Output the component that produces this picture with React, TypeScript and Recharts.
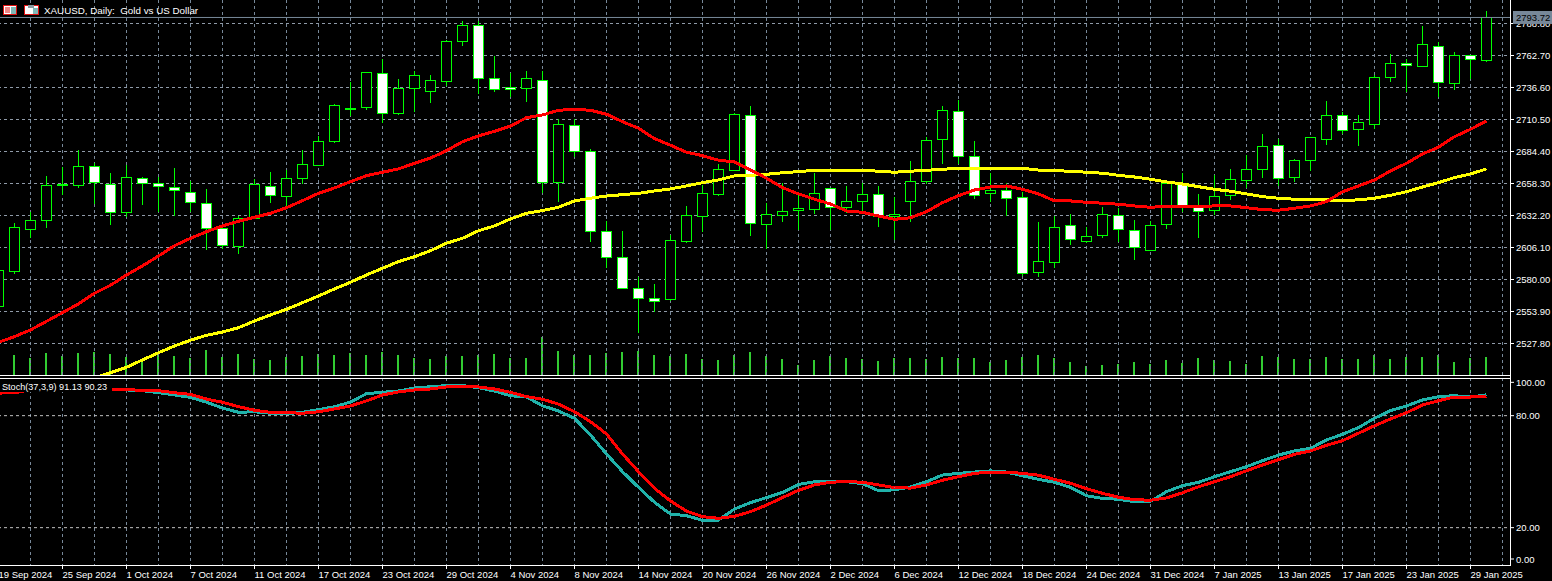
import {
  Bar,
  CartesianGrid,
  ComposedChart,
  Line,
  ReferenceLine,
  XAxis,
  YAxis,
} from "recharts"

const opens = [2557.6, 2586.4, 2620.7, 2628.0, 2656.7, 2656.5, 2672.4, 2657.7, 2634.5, 2662.6, 2658.5, 2655.2, 2651.2, 2642.2, 2621.8, 2606.8, 2629.4, 2656.1, 2647.6, 2662.3, 2672.9, 2692.4, 2718.7, 2720.2, 2748.2, 2715.3, 2736.0, 2733.2, 2741.4, 2774.3, 2787.4, 2743.8, 2736.5, 2735.7, 2742.5, 2659.0, 2705.8, 2684.6, 2619.4, 2598.1, 2572.9, 2564.7, 2563.6, 2610.9, 2631.3, 2649.2, 2668.8, 2714.0, 2624.7, 2632.1, 2636.2, 2637.0, 2654.4, 2638.6, 2643.5, 2649.5, 2631.3, 2643.5, 2659.8, 2694.4, 2717.2, 2680.5, 2650.3, 2652.8, 2647.1, 2585.6, 2593.7, 2624.2, 2610.9, 2615.8, 2632.4, 2620.2, 2603.5, 2624.7, 2657.9, 2640.6, 2636.2, 2648.4, 2660.6, 2669.9, 2689.5, 2663.4, 2677.3, 2694.4, 2714.0, 2702.5, 2706.6, 2745.0, 2756.4, 2753.6, 2770.2, 2740.1, 2762.6, 2758.5]
const highs = [2587.0, 2625.9, 2635.1, 2664.5, 2671.6, 2685.4, 2675.1, 2666.9, 2673.2, 2663.6, 2663.4, 2671.0, 2660.4, 2653.6, 2623.1, 2632.1, 2662.0, 2667.7, 2669.3, 2685.4, 2697.1, 2723.2, 2741.1, 2749.3, 2759.6, 2743.6, 2750.1, 2746.8, 2775.4, 2790.6, 2790.6, 2762.3, 2748.7, 2750.1, 2750.1, 2710.7, 2710.7, 2686.2, 2627.5, 2619.6, 2582.3, 2576.4, 2616.3, 2640.0, 2657.1, 2674.2, 2715.6, 2721.5, 2642.4, 2658.5, 2649.0, 2666.9, 2654.7, 2656.3, 2658.5, 2656.3, 2647.1, 2676.7, 2696.0, 2721.5, 2726.4, 2693.0, 2666.9, 2658.5, 2651.6, 2626.9, 2632.1, 2633.5, 2622.9, 2639.2, 2638.4, 2628.6, 2627.5, 2660.4, 2666.7, 2649.8, 2665.3, 2670.2, 2681.3, 2698.7, 2694.4, 2678.1, 2696.3, 2725.6, 2716.9, 2714.2, 2746.6, 2763.7, 2759.6, 2786.8, 2773.5, 2765.3, 2763.1, 2799.0]
const lows = [2557.6, 2584.8, 2614.1, 2622.3, 2649.0, 2654.9, 2641.6, 2624.7, 2631.3, 2640.8, 2635.3, 2632.1, 2635.3, 2604.3, 2605.2, 2601.1, 2629.0, 2642.7, 2639.4, 2657.9, 2672.6, 2691.4, 2713.6, 2718.5, 2707.9, 2714.2, 2716.9, 2724.2, 2738.1, 2770.7, 2731.1, 2733.2, 2729.1, 2725.1, 2650.8, 2643.5, 2679.7, 2610.9, 2589.7, 2572.3, 2536.7, 2553.8, 2562.5, 2609.8, 2618.8, 2648.4, 2668.1, 2615.5, 2604.9, 2626.9, 2620.4, 2633.5, 2620.4, 2634.3, 2633.5, 2622.9, 2612.3, 2626.9, 2658.2, 2674.5, 2674.5, 2645.9, 2643.2, 2632.1, 2582.9, 2582.1, 2589.4, 2608.2, 2609.8, 2614.1, 2610.6, 2596.0, 2603.3, 2621.2, 2635.3, 2613.9, 2632.6, 2644.9, 2654.9, 2663.1, 2656.3, 2659.6, 2668.5, 2689.7, 2699.0, 2688.9, 2703.0, 2741.4, 2733.2, 2753.6, 2728.6, 2734.8, 2743.3, 2757.7]
const closes = [2587.0, 2622.6, 2628.3, 2656.9, 2657.4, 2672.4, 2659.0, 2634.5, 2663.4, 2658.5, 2656.1, 2652.5, 2642.7, 2621.5, 2607.6, 2630.0, 2657.7, 2648.4, 2662.6, 2674.0, 2692.8, 2722.1, 2719.8, 2749.0, 2715.3, 2736.0, 2746.6, 2742.5, 2774.3, 2787.4, 2744.1, 2735.2, 2734.8, 2744.1, 2659.0, 2706.6, 2684.6, 2619.0, 2597.8, 2572.5, 2564.7, 2561.9, 2612.0, 2632.4, 2650.3, 2669.9, 2714.8, 2625.5, 2633.2, 2635.7, 2638.1, 2650.3, 2638.6, 2643.8, 2649.5, 2631.3, 2633.2, 2660.1, 2693.6, 2718.0, 2680.5, 2648.4, 2652.5, 2645.9, 2584.8, 2594.9, 2622.6, 2612.5, 2615.3, 2633.2, 2620.7, 2606.3, 2624.2, 2657.9, 2639.4, 2635.3, 2648.1, 2661.8, 2669.9, 2688.7, 2662.6, 2677.3, 2696.0, 2714.0, 2701.7, 2708.3, 2745.0, 2756.4, 2754.7, 2771.9, 2740.9, 2762.9, 2759.3, 2793.72]
const volumes = [18, 20, 17, 22, 19, 22, 23, 21, 18, 14, 20, 19, 17, 25, 18, 21, 16, 15, 18, 19, 21, 20, 22, 20, 23, 20, 17, 16, 19, 19, 20, 21, 17, 17, 38, 24, 20, 20, 22, 23, 24, 20, 19, 21, 16, 15, 20, 23, 19, 16, 10, 15, 19, 17, 16, 14, 17, 17, 16, 18, 17, 17, 13, 15, 18, 20, 17, 13, 9, 10, 11, 13, 11, 15, 12, 17, 15, 14, 11, 19, 18, 16, 16, 18, 16, 16, 20, 16, 18, 18, 20, 13, 17, 18]
const redMa = [2528.8, 2533.4, 2538.9, 2545.9, 2553.0, 2560.1, 2568.8, 2575.3, 2583.7, 2591.1, 2599.2, 2607.6, 2613.6, 2619.0, 2623.7, 2627.5, 2630.8, 2634.0, 2638.6, 2644.3, 2650.3, 2654.7, 2659.8, 2664.7, 2667.5, 2670.2, 2674.8, 2679.1, 2685.1, 2692.4, 2697.1, 2700.9, 2705.2, 2712.0, 2714.2, 2718.0, 2718.9, 2718.0, 2714.8, 2708.7, 2703.4, 2694.9, 2689.5, 2683.8, 2681.0, 2677.3, 2675.9, 2669.3, 2662.6, 2654.9, 2649.8, 2645.5, 2641.6, 2635.9, 2634.8, 2631.8, 2629.1, 2630.4, 2635.3, 2642.7, 2648.4, 2653.0, 2655.5, 2656.3, 2653.6, 2649.8, 2644.1, 2644.1, 2643.0, 2642.2, 2641.4, 2640.0, 2638.9, 2639.7, 2639.2, 2639.7, 2640.0, 2640.0, 2638.6, 2637.0, 2636.5, 2638.1, 2640.0, 2643.5, 2651.6, 2656.3, 2661.2, 2668.5, 2674.8, 2682.4, 2687.9, 2696.5, 2702.5, 2709.3]
const yellowMa = [null, null, null, null, null, null, 2499.7, 2504.0, 2508.4, 2514.4, 2520.3, 2525.8, 2530.5, 2534.5, 2537.2, 2540.7, 2546.2, 2551.1, 2555.7, 2561.1, 2566.6, 2572.3, 2577.8, 2583.7, 2589.2, 2594.6, 2598.6, 2603.5, 2609.6, 2613.6, 2619.8, 2623.7, 2629.4, 2634.0, 2636.2, 2638.9, 2644.1, 2646.3, 2648.1, 2649.2, 2650.3, 2652.2, 2653.9, 2656.3, 2659.0, 2661.2, 2664.5, 2665.0, 2665.8, 2667.1, 2668.0, 2669.1, 2669.1, 2669.1, 2669.1, 2668.3, 2667.5, 2668.3, 2669.1, 2669.9, 2670.7, 2670.7, 2670.7, 2670.7, 2670.7, 2669.3, 2668.8, 2668.3, 2667.5, 2666.7, 2665.0, 2663.6, 2661.8, 2659.6, 2657.9, 2655.7, 2653.6, 2652.0, 2649.8, 2647.6, 2646.3, 2645.5, 2645.1, 2644.9, 2644.6, 2644.9, 2646.3, 2648.7, 2651.6, 2655.5, 2659.0, 2663.1, 2666.1, 2670.2]
const stochMain = [92.1, 92.3, 94.0, 94.0, 94.0, 94.0, 94.0, 93.9, 93.8, 93.4, 92.3, 91.1, 89.8, 87.2, 84.1, 81.8, 82.1, 81.3, 81.1, 81.8, 83.2, 84.8, 87.3, 91.8, 92.5, 93.2, 94.8, 95.5, 96.1, 96.1, 95.0, 93.2, 90.7, 90.0, 85.3, 82.5, 78.6, 69.6, 59.5, 50.0, 41.6, 33.6, 27.3, 26.4, 23.9, 24.1, 30.0, 33.4, 36.1, 38.9, 43.2, 44.6, 44.6, 44.6, 43.6, 39.8, 40.3, 41.8, 44.6, 48.2, 49.1, 49.8, 50.4, 49.8, 47.8, 45.9, 44.3, 41.6, 37.1, 35.7, 35.2, 33.9, 34.1, 39.3, 42.5, 44.3, 47.3, 50.0, 52.7, 55.9, 58.9, 61.1, 62.5, 67.0, 70.0, 73.6, 78.6, 82.7, 85.2, 88.4, 90.2, 90.7, 90.0, 91.13]
const stochSignal = [92.1, 92.3, 93.8, 94.0, 94.0, 94.0, 93.9, 93.9, 93.9, 93.6, 93.4, 92.3, 91.4, 88.9, 87.2, 84.8, 82.9, 81.8, 81.6, 81.3, 82.1, 83.6, 85.2, 87.9, 91.1, 92.7, 93.8, 94.3, 95.4, 95.4, 95.4, 94.3, 92.5, 90.2, 88.8, 86.2, 82.1, 76.8, 70.2, 59.5, 50.0, 41.1, 34.3, 28.9, 25.9, 25.0, 26.1, 28.6, 32.1, 36.1, 40.0, 42.9, 44.3, 44.8, 44.3, 42.9, 41.5, 41.2, 42.9, 45.4, 47.3, 49.1, 49.7, 49.7, 49.1, 48.1, 45.9, 43.8, 40.9, 38.4, 36.3, 35.0, 34.7, 35.9, 38.7, 41.9, 44.6, 47.3, 50.5, 53.6, 56.4, 59.3, 61.1, 64.1, 66.6, 70.6, 74.6, 78.2, 81.6, 85.7, 88.0, 90.0, 90.0, 90.23]

const dateLabels = ["19 Sep 2024", "25 Sep 2024", "1 Oct 2024", "7 Oct 2024", "11 Oct 2024", "17 Oct 2024", "23 Oct 2024", "29 Oct 2024", "4 Nov 2024", "8 Nov 2024", "14 Nov 2024", "20 Nov 2024", "26 Nov 2024", "2 Dec 2024", "6 Dec 2024", "12 Dec 2024", "18 Dec 2024", "24 Dec 2024", "31 Dec 2024", "7 Jan 2025", "13 Jan 2025", "17 Jan 2025", "23 Jan 2025", "29 Jan 2025"]
const dateTicks = [0, 4, 8, 12, 16, 20, 24, 28, 32, 36, 40, 44, 48, 52, 56, 60, 64, 68, 72, 76, 80, 84, 88, 92]
const gridBars = [2, 4, 6, 8, 10, 12, 14, 16, 18, 20, 22, 24, 26, 28, 30, 32, 34, 36, 38, 40, 42, 44, 46, 48, 50, 52, 54, 56, 58, 60, 62, 64, 66, 68, 70, 72, 74, 76, 78, 80, 82, 84, 86, 88, 90, 92, 94]
const priceGrid = [2788.8, 2762.7, 2736.6, 2710.5, 2684.4, 2658.3, 2632.2, 2606.1, 2580.0, 2553.9, 2527.8]
const bidPrice = 2793.72
const stochTicks = [100, 80, 20, 0]
const stochGrid = [80, 20]

const rows = opens.map((open, i) => ({
  bar: i,
  open,
  close: closes[i],
  range: [lows[i], highs[i]],
  volume: volumes[i],
  redMa: redMa[i],
  yellowMa: yellowMa[i],
  main: stochMain[i],
  signal: stochSignal[i],
}))

const FONT = "'Liberation Sans', sans-serif"
const FONT_SIZE = 9.5
const SLATE = "#778899"
const LIME = "#00ff00"
const DASH = "3 3"
const xDomain = [-1.90625, 94.46875]

function Candle(props: any) {
  const { x, y, width, height, payload } = props
  const mid = Math.floor(x + width / 2) + 0.5
  const [low, high] = payload.range
  const perUnit = height / (high - low)
  const bodyTop = Math.max(payload.open, payload.close)
  const bodyBottom = Math.min(payload.open, payload.close)
  const top = Math.floor(y + (high - bodyTop) * perUnit) + 0.5
  const bottom = Math.floor(y + (high - bodyBottom) * perUnit) + 0.5
  const up = payload.close >= payload.open
  return (
    <g shapeRendering="crispEdges">
      <line x1={mid} x2={mid} y1={y} y2={y + height} stroke={LIME} />
      <rect x={mid - 5} y={top} width={10} height={Math.max(bottom - top, 1)} fill={up ? "#000" : "#fff"} stroke={LIME} />
    </g>
  )
}

function VolumeBar(props: any) {
  const { x, y, width, height } = props
  return <rect x={Math.floor(x + width / 2) - 1} y={y} width={2} height={height} fill="#32cd32" shapeRendering="crispEdges" />
}

function PriceTick(props: any) {
  const { y, payload } = props
  if (payload.value === bidPrice) {
    return (
      <g>
        <rect x={1545} y={y - 6.5} width={39} height={13} fill={SLATE} />
        <text x={1548} y={y + 3.5} fill="#000" fontSize={FONT_SIZE} fontFamily={FONT}>
          {bidPrice.toFixed(2)}
        </text>
      </g>
    )
  }
  return (
    <g>
      <line x1={1542} x2={1546} y1={y} y2={y} stroke="#fff" />
      <text x={1548} y={y + 3.5} fill="#fff" fontSize={FONT_SIZE} fontFamily={FONT}>
        {payload.value.toFixed(2)}
      </text>
    </g>
  )
}

function StochTick(props: any) {
  const { y, payload } = props
  let shift = 0
  if (payload.value === 100) shift = 4
  if (payload.value === 0) shift = -6
  return (
    <g>
      <line x1={1542} x2={1546} y1={y + shift} y2={y + shift} stroke="#fff" />
      <text x={1548} y={y + shift + 3.5} fill="#fff" fontSize={FONT_SIZE} fontFamily={FONT}>
        {payload.value.toFixed(2)}
      </text>
    </g>
  )
}

function DateTick(props: any) {
  const { x, y, payload } = props
  const base = y - 8
  return (
    <g>
      <line x1={x} x2={x} y1={base} y2={base + 4} stroke="#fff" />
      <text x={x} y={base + 12.5} fill="#fff" fontSize={FONT_SIZE} fontFamily={FONT}>
        {dateLabels[payload.index]}
      </text>
    </g>
  )
}

export default function App() {
  return (
    <div style={{ position: "absolute", left: 0, top: 0, width: 1552, height: 581, background: "#000", overflow: "hidden" }}>
      {/* stair-stepped, non antialiased indicator lines */}
      <style>{`.recharts-line-curve { shape-rendering: crispEdges; }`}</style>
      {/* volume sits in its own layer so its bars don't share bar slots with the candles */}
      <div style={{ position: "absolute", left: -32, top: 0 }}>
        <ComposedChart width={1584} height={376} data={rows} margin={{ top: 0, right: 42, bottom: 0, left: 0 }}>
          <XAxis dataKey="bar" type="number" domain={xDomain} allowDataOverflow hide />
          <YAxis hide domain={[-1, 375]} />
          <Bar dataKey="volume" barSize={2} shape={VolumeBar} isAnimationActive={false} />
        </ComposedChart>
      </div>
      <div style={{ position: "absolute", left: -32, top: 0 }}>
        <ComposedChart width={1584} height={376} data={rows} margin={{ top: 0, right: 0, bottom: 0, left: 0 }}>
          <CartesianGrid stroke={SLATE} strokeDasharray={DASH} horizontal={false} verticalValues={gridBars} />
          <CartesianGrid stroke="#8f9aa8" strokeDasharray={DASH} vertical={false} horizontalValues={priceGrid} />
          <XAxis dataKey="bar" type="number" domain={xDomain} allowDataOverflow hide />
          <YAxis
            orientation="right"
            width={42}
            domain={[2501.3, 2807.97]}
            allowDataOverflow
            ticks={[...priceGrid, bidPrice]}
            interval={0}
            axisLine={false}
            tickLine={false}
            tick={PriceTick}
          />
          <ReferenceLine y={bidPrice} stroke={SLATE} />
          <Bar dataKey="range" barSize={10} shape={Candle} isAnimationActive={false} />
          <Line dataKey="yellowMa" stroke="#ffff00" strokeWidth={3} dot={false} activeDot={false} type="linear" isAnimationActive={false} />
          <Line dataKey="redMa" stroke="#ff0000" strokeWidth={3} dot={false} activeDot={false} type="linear" isAnimationActive={false} />
        </ComposedChart>
      </div>
      <div style={{ position: "absolute", left: -32, top: 378 }}>
        <ComposedChart width={1584} height={203} data={rows} margin={{ top: 0, right: 0, bottom: 0, left: 0 }}>
          <CartesianGrid stroke={SLATE} strokeDasharray={DASH} horizontal={false} verticalValues={gridBars} />
          <CartesianGrid stroke="#c0c0c0" strokeDasharray={DASH} vertical={false} horizontalValues={stochGrid} />
          <XAxis
            dataKey="bar"
            type="number"
            domain={xDomain}
            allowDataOverflow
            ticks={dateTicks}
            interval={0}
            height={16}
            axisLine={false}
            tickLine={false}
            tick={DateTick}
          />
          <YAxis
            orientation="right"
            width={42}
            domain={[0, 100.18]}
            ticks={stochTicks}
            interval={0}
            axisLine={false}
            tickLine={false}
            tick={StochTick}
          />
          <Line dataKey="main" stroke="#20b2aa" strokeWidth={3} dot={false} activeDot={false} type="linear" isAnimationActive={false} />
          <Line dataKey="signal" stroke="#ff0000" strokeWidth={3} dot={false} activeDot={false} type="linear" isAnimationActive={false} />
        </ComposedChart>
      </div>

      {/* panel frame lines */}
      <div style={{ position: "absolute", left: 0, top: 375, width: 1510, height: 1, background: "#fff" }} />
      <div style={{ position: "absolute", left: 0, top: 378, width: 1510, height: 1, background: "#fff" }} />
      <div style={{ position: "absolute", left: 0, top: 565, width: 1511, height: 1, background: "#fff" }} />
      <div style={{ position: "absolute", left: 1510, top: 0, width: 1, height: 566, background: "#fff" }} />

      <svg width={1552} height={581} style={{ position: "absolute", left: 0, top: 0, pointerEvents: "none" }}>
        {/* window icons */}
        <rect x={3.5} y={5.5} width={13} height={9} fill="#fff" stroke="#e01010" />
        <path d="M5 8h5M5 10h5M5 12h5" stroke="#e01010" />
        <rect x={11} y={7} width={5} height={7} fill="#7fb8b8" />
        <rect x={24.5} y={5.5} width={14} height={9} fill="#fff" stroke="#e01010" />
        <rect x={28} y={5} width={6} height={3} fill="#8a9aa0" />
        <rect x={33} y={8} width={5} height={6} fill="#7fb8b8" />
        <text x={44} y={14} fill="#fff" fontSize={9.8} fontFamily={FONT}>XAUUSD, Daily:{"\u00a0\u00a0"}Gold vs US Dollar</text>
        <rect x={0} y={379} width={112} height={13} fill="#000" />
        <text x={2} y={390} fill="#fff" fontSize={9.1} fontFamily={FONT}>Stoch(37,3,9) 91.13 90.23</text>
      </svg>
    </div>
  )
}
